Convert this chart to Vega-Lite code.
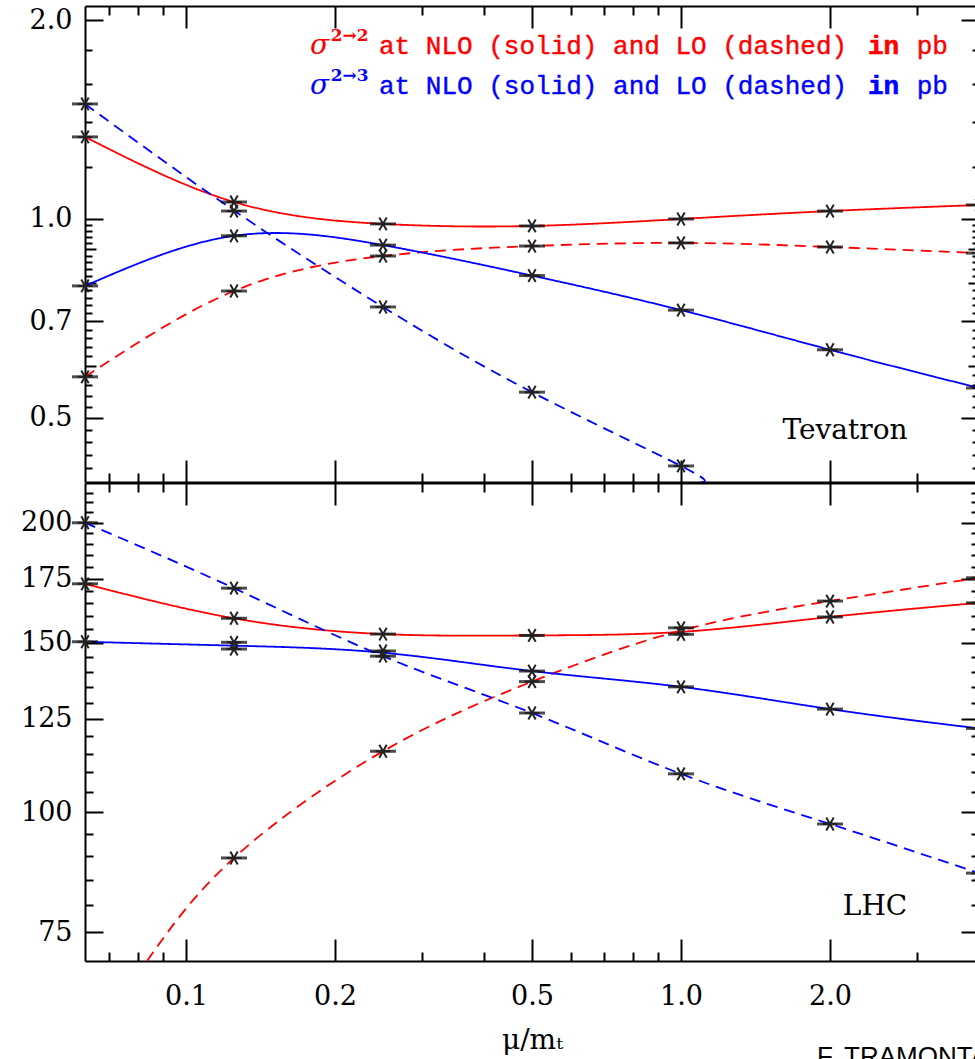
{
  "$schema": "https://vega.github.io/schema/vega-lite/v6.json",
  "padding": {"left": 0, "top": 5, "right": 0, "bottom": 0},
  "spacing": -5,
  "config": {
    "view": {"stroke": null},
    "font": "DejaVu Serif",
    "axis": {"domainColor": "black", "domainWidth": 2, "tickColor": "black", "tickWidth": 2, "labelColor": "black", "labelFont": "DejaVu Serif", "labelFontSize": 27, "grid": false, "labelOverlap": false, "labelFlush": false, "titleFont": "DejaVu Serif", "titleFontSize": 28, "titleFontWeight": "normal", "titleColor": "black"}
  },
  "datasets": {
    "curves": [
      {"panel": "Tevatron", "proc": "2→2", "order": "NLO", "x": 0.0625, "y": 1.331},
      {"panel": "Tevatron", "proc": "2→2", "order": "NLO", "x": 0.125, "y": 1.061},
      {"panel": "Tevatron", "proc": "2→2", "order": "NLO", "x": 0.25, "y": 0.983},
      {"panel": "Tevatron", "proc": "2→2", "order": "NLO", "x": 0.5, "y": 0.976},
      {"panel": "Tevatron", "proc": "2→2", "order": "NLO", "x": 1, "y": 1.0},
      {"panel": "Tevatron", "proc": "2→2", "order": "NLO", "x": 2, "y": 1.028},
      {"panel": "Tevatron", "proc": "2→2", "order": "NLO", "x": 4, "y": 1.05},
      {"panel": "Tevatron", "proc": "2→2", "order": "LO", "x": 0.0625, "y": 0.577},
      {"panel": "Tevatron", "proc": "2→2", "order": "LO", "x": 0.125, "y": 0.778},
      {"panel": "Tevatron", "proc": "2→2", "order": "LO", "x": 0.25, "y": 0.879},
      {"panel": "Tevatron", "proc": "2→2", "order": "LO", "x": 0.5, "y": 0.91},
      {"panel": "Tevatron", "proc": "2→2", "order": "LO", "x": 1, "y": 0.92},
      {"panel": "Tevatron", "proc": "2→2", "order": "LO", "x": 2, "y": 0.907},
      {"panel": "Tevatron", "proc": "2→2", "order": "LO", "x": 4, "y": 0.888},
      {"panel": "Tevatron", "proc": "2→3", "order": "NLO", "x": 0.0625, "y": 0.792},
      {"panel": "Tevatron", "proc": "2→3", "order": "NLO", "x": 0.125, "y": 0.943},
      {"panel": "Tevatron", "proc": "2→3", "order": "NLO", "x": 0.25, "y": 0.913},
      {"panel": "Tevatron", "proc": "2→3", "order": "NLO", "x": 0.5, "y": 0.821},
      {"panel": "Tevatron", "proc": "2→3", "order": "NLO", "x": 1, "y": 0.728},
      {"panel": "Tevatron", "proc": "2→3", "order": "NLO", "x": 2, "y": 0.634},
      {"panel": "Tevatron", "proc": "2→3", "order": "NLO", "x": 4, "y": 0.555},
      {"panel": "Tevatron", "proc": "2→3", "order": "LO", "x": 0.0625, "y": 1.493},
      {"panel": "Tevatron", "proc": "2→3", "order": "LO", "x": 0.125, "y": 1.03},
      {"panel": "Tevatron", "proc": "2→3", "order": "LO", "x": 0.25, "y": 0.736},
      {"panel": "Tevatron", "proc": "2→3", "order": "LO", "x": 0.5, "y": 0.547},
      {"panel": "Tevatron", "proc": "2→3", "order": "LO", "x": 1, "y": 0.423},
      {"panel": "Tevatron", "proc": "2→3", "order": "LO", "x": 1.1, "y": 0.4},
      {"panel": "LHC", "proc": "2→2", "order": "NLO", "x": 0.0625, "y": 172.8},
      {"panel": "LHC", "proc": "2→2", "order": "NLO", "x": 0.125, "y": 159.1},
      {"panel": "LHC", "proc": "2→2", "order": "NLO", "x": 0.25, "y": 153.2},
      {"panel": "LHC", "proc": "2→2", "order": "NLO", "x": 0.5, "y": 152.7},
      {"panel": "LHC", "proc": "2→2", "order": "NLO", "x": 1, "y": 154.0},
      {"panel": "LHC", "proc": "2→2", "order": "NLO", "x": 2, "y": 159.6},
      {"panel": "LHC", "proc": "2→2", "order": "NLO", "x": 4, "y": 165.1},
      {"panel": "LHC", "proc": "2→2", "order": "LO", "x": 0.0834, "y": 70},
      {"panel": "LHC", "proc": "2→2", "order": "LO", "x": 0.125, "y": 89.6},
      {"panel": "LHC", "proc": "2→2", "order": "LO", "x": 0.25, "y": 115.7},
      {"panel": "LHC", "proc": "2→2", "order": "LO", "x": 0.5, "y": 136.7},
      {"panel": "LHC", "proc": "2→2", "order": "LO", "x": 1, "y": 154.5},
      {"panel": "LHC", "proc": "2→2", "order": "LO", "x": 2, "y": 165.8},
      {"panel": "LHC", "proc": "2→2", "order": "LO", "x": 4, "y": 175.3},
      {"panel": "LHC", "proc": "2→3", "order": "NLO", "x": 0.0625, "y": 150.4},
      {"panel": "LHC", "proc": "2→3", "order": "NLO", "x": 0.125, "y": 149.0},
      {"panel": "LHC", "proc": "2→3", "order": "NLO", "x": 0.25, "y": 146.5},
      {"panel": "LHC", "proc": "2→3", "order": "NLO", "x": 0.5, "y": 140.2},
      {"panel": "LHC", "proc": "2→3", "order": "NLO", "x": 1, "y": 135.0},
      {"panel": "LHC", "proc": "2→3", "order": "NLO", "x": 2, "y": 128.0},
      {"panel": "LHC", "proc": "2→3", "order": "NLO", "x": 4, "y": 122.2},
      {"panel": "LHC", "proc": "2→3", "order": "LO", "x": 0.0625, "y": 200},
      {"panel": "LHC", "proc": "2→3", "order": "LO", "x": 0.125, "y": 171},
      {"panel": "LHC", "proc": "2→3", "order": "LO", "x": 0.25, "y": 145.3},
      {"panel": "LHC", "proc": "2→3", "order": "LO", "x": 0.5, "y": 126.8},
      {"panel": "LHC", "proc": "2→3", "order": "LO", "x": 1, "y": 109.6},
      {"panel": "LHC", "proc": "2→3", "order": "LO", "x": 2, "y": 97.2},
      {"panel": "LHC", "proc": "2→3", "order": "LO", "x": 4, "y": 86.4}
    ],
    "points": [
      {"panel": "Tevatron", "x": 0.0625, "y": 1.493},
      {"panel": "Tevatron", "x": 0.0625, "y": 1.331},
      {"panel": "Tevatron", "x": 0.0625, "y": 0.792},
      {"panel": "Tevatron", "x": 0.0625, "y": 0.577},
      {"panel": "Tevatron", "x": 0.125, "y": 1.061},
      {"panel": "Tevatron", "x": 0.125, "y": 1.028},
      {"panel": "Tevatron", "x": 0.125, "y": 0.943},
      {"panel": "Tevatron", "x": 0.125, "y": 0.778},
      {"panel": "Tevatron", "x": 0.25, "y": 0.983},
      {"panel": "Tevatron", "x": 0.25, "y": 0.913},
      {"panel": "Tevatron", "x": 0.25, "y": 0.879},
      {"panel": "Tevatron", "x": 0.25, "y": 0.736},
      {"panel": "Tevatron", "x": 0.5, "y": 0.976},
      {"panel": "Tevatron", "x": 0.5, "y": 0.91},
      {"panel": "Tevatron", "x": 0.5, "y": 0.821},
      {"panel": "Tevatron", "x": 0.5, "y": 0.547},
      {"panel": "Tevatron", "x": 1, "y": 1.0},
      {"panel": "Tevatron", "x": 1, "y": 0.92},
      {"panel": "Tevatron", "x": 1, "y": 0.728},
      {"panel": "Tevatron", "x": 1, "y": 0.423},
      {"panel": "Tevatron", "x": 2, "y": 1.028},
      {"panel": "Tevatron", "x": 2, "y": 0.907},
      {"panel": "Tevatron", "x": 2, "y": 0.634},
      {"panel": "Tevatron", "x": 4, "y": 1.05},
      {"panel": "Tevatron", "x": 4, "y": 0.888},
      {"panel": "Tevatron", "x": 4, "y": 0.555},
      {"panel": "LHC", "x": 0.0625, "y": 200},
      {"panel": "LHC", "x": 0.0625, "y": 172.8},
      {"panel": "LHC", "x": 0.0625, "y": 150.4},
      {"panel": "LHC", "x": 0.125, "y": 171},
      {"panel": "LHC", "x": 0.125, "y": 159.1},
      {"panel": "LHC", "x": 0.125, "y": 150.2},
      {"panel": "LHC", "x": 0.125, "y": 147.8},
      {"panel": "LHC", "x": 0.125, "y": 89.6},
      {"panel": "LHC", "x": 0.25, "y": 153.2},
      {"panel": "LHC", "x": 0.25, "y": 147.1},
      {"panel": "LHC", "x": 0.25, "y": 145.3},
      {"panel": "LHC", "x": 0.25, "y": 115.7},
      {"panel": "LHC", "x": 0.5, "y": 152.7},
      {"panel": "LHC", "x": 0.5, "y": 140.2},
      {"panel": "LHC", "x": 0.5, "y": 136.7},
      {"panel": "LHC", "x": 0.5, "y": 126.8},
      {"panel": "LHC", "x": 1, "y": 155.5},
      {"panel": "LHC", "x": 1, "y": 153.1},
      {"panel": "LHC", "x": 1, "y": 135.0},
      {"panel": "LHC", "x": 1, "y": 109.6},
      {"panel": "LHC", "x": 2, "y": 165.8},
      {"panel": "LHC", "x": 2, "y": 159.6},
      {"panel": "LHC", "x": 2, "y": 128.0},
      {"panel": "LHC", "x": 2, "y": 97.2},
      {"panel": "LHC", "x": 4, "y": 175.3},
      {"panel": "LHC", "x": 4, "y": 165.1},
      {"panel": "LHC", "x": 4, "y": 122.2},
      {"panel": "LHC", "x": 4, "y": 86.4}
    ],
    "texts": [
      {"panel": "Tevatron", "role": "sigma", "proc": "2→2", "x": 0.178, "y": 1.827, "label": "σ"},
      {"panel": "Tevatron", "role": "sup", "proc": "2→2", "x": 0.196, "y": 1.89, "label": "2→2"},
      {"panel": "Tevatron", "role": "main", "proc": "2→2", "x": 0.2454, "y": 1.827, "label": "at NLO (solid) and LO (dashed)"},
      {"panel": "Tevatron", "role": "bold", "proc": "2→2", "x": 2.386, "y": 1.827, "label": "in"},
      {"panel": "Tevatron", "role": "main", "proc": "2→2", "x": 2.994, "y": 1.827, "label": "pb"},
      {"panel": "Tevatron", "role": "sigma", "proc": "2→3", "x": 0.178, "y": 1.589, "label": "σ"},
      {"panel": "Tevatron", "role": "sup", "proc": "2→3", "x": 0.196, "y": 1.645, "label": "2→3"},
      {"panel": "Tevatron", "role": "main", "proc": "2→3", "x": 0.2454, "y": 1.589, "label": "at NLO (solid) and LO (dashed)"},
      {"panel": "Tevatron", "role": "bold", "proc": "2→3", "x": 2.386, "y": 1.589, "label": "in"},
      {"panel": "Tevatron", "role": "main", "proc": "2→3", "x": 2.994, "y": 1.589, "label": "pb"},
      {"panel": "Tevatron", "role": "name", "x": 2.145, "y": 0.478, "label": "Tevatron"},
      {"panel": "LHC", "role": "name", "x": 2.466, "y": 79.6, "label": "LHC"},
      {"panel": "LHC", "role": "credit", "x": 1.883, "y": 57.4, "label": "F. TRAMONTANO"}
    ]
  },
  "vconcat": [
    {
      "width": 894,
      "height": 476,
      "resolve": {"axis": {"x": "independent", "y": "independent"}},
      "layer": [
        {
          "data": {"name": "curves"},
          "transform": [{"filter": "datum.panel == 'Tevatron'"}],
          "mark": {"type": "line", "clip": true, "strokeWidth": 1.8, "interpolate": "natural"},
          "encoding": {
            "x": {"field": "x", "type": "quantitative", "scale": {"type": "log", "domain": [0.0625, 4], "nice": false},
              "axis": {"orient": "bottom", "title": null, "labels": false, "minExtent": 0, "values": [0.07, 0.08, 0.09, 0.1, 0.2, 0.3, 0.4, 0.5, 0.6, 0.7, 0.8, 0.9, 1, 2, 3],
                "tickSize": {"condition": {"test": "indexof([0.1,0.2,0.5,1,2], datum.value) >= 0", "value": -22}, "value": -9}}},
            "y": {"field": "y", "type": "quantitative", "scale": {"type": "log", "domain": [0.4, 2.1], "nice": false},
              "axis": {"orient": "left", "title": null, "minExtent": 85, "labelPadding": 31,
                "values": [0.42, 0.44, 0.46, 0.48, 0.5, 0.52, 0.54, 0.56, 0.58, 0.6, 0.62, 0.64, 0.66, 0.68, 0.7, 0.72, 0.74, 0.76, 0.78, 0.8, 0.82, 0.84, 0.86, 0.88, 0.9, 0.92, 0.94, 0.96, 0.98, 1, 1.2, 1.4, 1.6, 1.8, 2],
                "labelExpr": "indexof([0.5,0.7,1,2], datum.value) >= 0 ? format(datum.value, '.1f') : ''",
                "tickSize": {"condition": [{"test": "indexof([0.5,0.7,1,2], datum.value) >= 0", "value": -18}, {"test": "indexof([0.6,0.8,0.9], datum.value) >= 0", "value": -11}], "value": -7}}},
            "color": {"field": "proc", "type": "nominal", "scale": {"domain": ["2→2", "2→3"], "range": ["#ff0000", "#0000ff"]}, "legend": null},
            "strokeDash": {"field": "order", "type": "nominal", "scale": {"domain": ["NLO", "LO"], "range": [[1, 0], [11, 7]]}, "legend": null}
          }
        },
        {
          "data": {"name": "points"},
          "transform": [{"filter": "datum.panel == 'Tevatron'"}],
          "mark": {"type": "tick", "orient": "horizontal", "size": 26, "thickness": 3, "color": "black"},
          "encoding": {
            "x": {"field": "x", "type": "quantitative", "scale": {"type": "log", "domain": [0.0625, 4], "nice": false},
              "axis": {"orient": "top", "title": null, "labels": false, "minExtent": 0, "values": [0.07, 0.08, 0.09, 0.1, 0.2, 0.3, 0.4, 0.5, 0.6, 0.7, 0.8, 0.9, 1, 2, 3],
                "tickSize": {"condition": {"test": "indexof([0.1,0.2,0.5,1,2], datum.value) >= 0", "value": -22}, "value": -9}}},
            "y": {"field": "y", "type": "quantitative", "scale": {"type": "log", "domain": [0.4, 2.1], "nice": false},
              "axis": {"orient": "right", "title": null, "labels": false, "minExtent": 0,
                "values": [0.42, 0.44, 0.46, 0.48, 0.5, 0.52, 0.54, 0.56, 0.58, 0.6, 0.62, 0.64, 0.66, 0.68, 0.7, 0.72, 0.74, 0.76, 0.78, 0.8, 0.82, 0.84, 0.86, 0.88, 0.9, 0.92, 0.94, 0.96, 0.98, 1, 1.2, 1.4, 1.6, 1.8, 2],
                "tickSize": {"condition": [{"test": "indexof([0.5,0.7,1,2], datum.value) >= 0", "value": -18}, {"test": "indexof([0.6,0.8,0.9], datum.value) >= 0", "value": -11}], "value": -7}}}
          }
        },
        {
          "data": {"name": "points"},
          "transform": [{"filter": "datum.panel == 'Tevatron'"}],
          "mark": {"type": "point", "shape": "M-1,0L1,0M-0.5,-0.866L0.5,0.866M-0.5,0.866L0.5,-0.866", "size": 220, "filled": false, "stroke": "#222222", "strokeWidth": 2, "opacity": 1},
          "encoding": {
            "x": {"field": "x", "type": "quantitative", "scale": {"type": "log", "domain": [0.0625, 4], "nice": false}, "axis": null},
            "y": {"field": "y", "type": "quantitative", "scale": {"type": "log", "domain": [0.4, 2.1], "nice": false}, "axis": null}
          }
        },
        {
          "data": {"name": "texts"},
          "transform": [{"filter": "datum.panel == 'Tevatron' && datum.role == 'main'"}],
          "mark": {"type": "text", "font": "Liberation Mono", "fontSize": 26, "strokeWidth": 0.4, "align": "left", "baseline": "middle"},
          "encoding": {
            "x": {"field": "x", "type": "quantitative", "scale": {"type": "log", "domain": [0.0625, 4], "nice": false}, "axis": null},
            "y": {"field": "y", "type": "quantitative", "scale": {"type": "log", "domain": [0.4, 2.1], "nice": false}, "axis": null},
            "text": {"field": "label"},
            "color": {"field": "proc", "type": "nominal", "scale": {"domain": ["2→2", "2→3"], "range": ["#ff0000", "#0000ff"]}, "legend": null},
            "stroke": {"field": "proc", "type": "nominal", "scale": {"domain": ["2→2", "2→3"], "range": ["#ff0000", "#0000ff"]}, "legend": null}
          }
        },
        {
          "data": {"name": "texts"},
          "transform": [{"filter": "datum.panel == 'Tevatron' && datum.role == 'bold'"}],
          "mark": {"type": "text", "font": "Liberation Mono", "fontSize": 26, "fontWeight": "bold", "strokeWidth": 0.6, "align": "left", "baseline": "middle"},
          "encoding": {
            "x": {"field": "x", "type": "quantitative", "scale": {"type": "log", "domain": [0.0625, 4], "nice": false}, "axis": null},
            "y": {"field": "y", "type": "quantitative", "scale": {"type": "log", "domain": [0.4, 2.1], "nice": false}, "axis": null},
            "text": {"field": "label"},
            "color": {"field": "proc", "type": "nominal", "scale": {"domain": ["2→2", "2→3"], "range": ["#ff0000", "#0000ff"]}, "legend": null},
            "stroke": {"field": "proc", "type": "nominal", "scale": {"domain": ["2→2", "2→3"], "range": ["#ff0000", "#0000ff"]}, "legend": null}
          }
        },
        {
          "data": {"name": "texts"},
          "transform": [{"filter": "datum.panel == 'Tevatron' && datum.role == 'sigma'"}],
          "mark": {"type": "text", "font": "DejaVu Serif", "fontSize": 28, "fontStyle": "italic", "align": "left", "baseline": "middle"},
          "encoding": {
            "x": {"field": "x", "type": "quantitative", "scale": {"type": "log", "domain": [0.0625, 4], "nice": false}, "axis": null},
            "y": {"field": "y", "type": "quantitative", "scale": {"type": "log", "domain": [0.4, 2.1], "nice": false}, "axis": null},
            "text": {"field": "label"},
            "color": {"field": "proc", "type": "nominal", "scale": {"domain": ["2→2", "2→3"], "range": ["#ff0000", "#0000ff"]}, "legend": null}
          }
        },
        {
          "data": {"name": "texts"},
          "transform": [{"filter": "datum.panel == 'Tevatron' && datum.role == 'sup'"}],
          "mark": {"type": "text", "font": "DejaVu Serif", "fontSize": 17, "fontWeight": "bold", "align": "left", "baseline": "middle"},
          "encoding": {
            "x": {"field": "x", "type": "quantitative", "scale": {"type": "log", "domain": [0.0625, 4], "nice": false}, "axis": null},
            "y": {"field": "y", "type": "quantitative", "scale": {"type": "log", "domain": [0.4, 2.1], "nice": false}, "axis": null},
            "text": {"field": "label"},
            "color": {"field": "proc", "type": "nominal", "scale": {"domain": ["2→2", "2→3"], "range": ["#ff0000", "#0000ff"]}, "legend": null}
          }
        },
        {
          "data": {"name": "texts"},
          "transform": [{"filter": "datum.panel == 'Tevatron' && datum.role == 'name'"}],
          "mark": {"type": "text", "font": "DejaVu Serif", "fontSize": 28, "align": "center", "baseline": "middle", "color": "black"},
          "encoding": {
            "x": {"field": "x", "type": "quantitative", "scale": {"type": "log", "domain": [0.0625, 4], "nice": false}, "axis": null},
            "y": {"field": "y", "type": "quantitative", "scale": {"type": "log", "domain": [0.4, 2.1], "nice": false}, "axis": null},
            "text": {"field": "label"}
          }
        }
      ]
    },
    {
      "width": 894,
      "height": 478,
      "resolve": {"axis": {"x": "independent", "y": "independent"}},
      "layer": [
        {
          "data": {"name": "curves"},
          "transform": [{"filter": "datum.panel == 'LHC'"}],
          "mark": {"type": "line", "clip": true, "strokeWidth": 1.8, "interpolate": "natural"},
          "encoding": {
            "x": {"field": "x", "type": "quantitative", "scale": {"type": "log", "domain": [0.0625, 4], "nice": false},
              "axis": {"orient": "bottom", "title": "μ/mₜ", "titlePadding": 4, "labelPadding": 44, "values": [0.07, 0.08, 0.09, 0.1, 0.2, 0.3, 0.4, 0.5, 0.6, 0.7, 0.8, 0.9, 1, 2, 3],
                "labelExpr": "indexof([0.1,0.2,0.5,1,2], datum.value) >= 0 ? format(datum.value, '.1f') : ''",
                "tickSize": {"condition": {"test": "indexof([0.1,0.2,0.5,1,2], datum.value) >= 0", "value": -22}, "value": -9}}},
            "y": {"field": "y", "type": "quantitative", "scale": {"type": "log", "domain": [70, 220], "nice": false},
              "axis": {"orient": "left", "title": null, "minExtent": 85, "labelPadding": 31,
                "values": [75, 80, 85, 90, 95, 100, 105, 110, 115, 120, 125, 130, 135, 140, 145, 150, 155, 160, 165, 170, 175, 180, 185, 190, 195, 200, 205, 210, 215],
                "labelExpr": "indexof([75,100,125,150,175,200], datum.value) >= 0 ? format(datum.value, 'd') : ''",
                "tickSize": {"condition": {"test": "indexof([75,100,125,150,175,200], datum.value) >= 0", "value": -18}, "value": -8}}},
            "color": {"field": "proc", "type": "nominal", "scale": {"domain": ["2→2", "2→3"], "range": ["#ff0000", "#0000ff"]}, "legend": null},
            "strokeDash": {"field": "order", "type": "nominal", "scale": {"domain": ["NLO", "LO"], "range": [[1, 0], [11, 7]]}, "legend": null}
          }
        },
        {
          "data": {"name": "points"},
          "transform": [{"filter": "datum.panel == 'LHC'"}],
          "mark": {"type": "tick", "orient": "horizontal", "size": 26, "thickness": 3, "color": "black"},
          "encoding": {
            "x": {"field": "x", "type": "quantitative", "scale": {"type": "log", "domain": [0.0625, 4], "nice": false},
              "axis": {"orient": "top", "title": null, "labels": false, "minExtent": 0, "values": [0.07, 0.08, 0.09, 0.1, 0.2, 0.3, 0.4, 0.5, 0.6, 0.7, 0.8, 0.9, 1, 2, 3],
                "tickSize": {"condition": {"test": "indexof([0.1,0.2,0.5,1,2], datum.value) >= 0", "value": -22}, "value": -9}}},
            "y": {"field": "y", "type": "quantitative", "scale": {"type": "log", "domain": [70, 220], "nice": false},
              "axis": {"orient": "right", "title": null, "labels": false, "minExtent": 0,
                "values": [75, 80, 85, 90, 95, 100, 105, 110, 115, 120, 125, 130, 135, 140, 145, 150, 155, 160, 165, 170, 175, 180, 185, 190, 195, 200, 205, 210, 215],
                "tickSize": {"condition": {"test": "indexof([75,100,125,150,175,200], datum.value) >= 0", "value": -18}, "value": -8}}}
          }
        },
        {
          "data": {"name": "points"},
          "transform": [{"filter": "datum.panel == 'LHC'"}],
          "mark": {"type": "point", "shape": "M-1,0L1,0M-0.5,-0.866L0.5,0.866M-0.5,0.866L0.5,-0.866", "size": 220, "filled": false, "stroke": "#222222", "strokeWidth": 2, "opacity": 1},
          "encoding": {
            "x": {"field": "x", "type": "quantitative", "scale": {"type": "log", "domain": [0.0625, 4], "nice": false}, "axis": null},
            "y": {"field": "y", "type": "quantitative", "scale": {"type": "log", "domain": [70, 220], "nice": false}, "axis": null}
          }
        },
        {
          "data": {"name": "texts"},
          "transform": [{"filter": "datum.panel == 'LHC' && datum.role == 'name'"}],
          "mark": {"type": "text", "font": "DejaVu Serif", "fontSize": 28, "align": "center", "baseline": "middle", "color": "black"},
          "encoding": {
            "x": {"field": "x", "type": "quantitative", "scale": {"type": "log", "domain": [0.0625, 4], "nice": false}, "axis": null},
            "y": {"field": "y", "type": "quantitative", "scale": {"type": "log", "domain": [70, 220], "nice": false}, "axis": null},
            "text": {"field": "label"}
          }
        },
        {
          "data": {"name": "texts"},
          "transform": [{"filter": "datum.panel == 'LHC' && datum.role == 'credit'"}],
          "mark": {"type": "text", "font": "Liberation Sans", "fontSize": 26, "align": "left", "baseline": "top", "color": "black"},
          "encoding": {
            "x": {"field": "x", "type": "quantitative", "scale": {"type": "log", "domain": [0.0625, 4], "nice": false}, "axis": null},
            "y": {"field": "y", "type": "quantitative", "scale": {"type": "log", "domain": [70, 220], "nice": false}, "axis": null},
            "text": {"field": "label"}
          }
        }
      ]
    }
  ]
}
